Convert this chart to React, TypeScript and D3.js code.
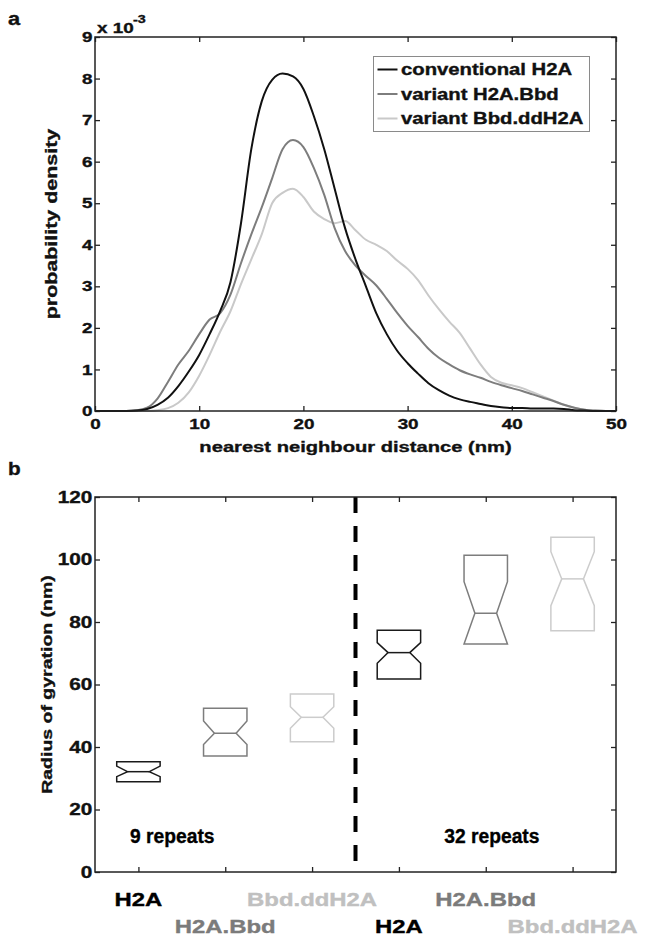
import { useRef, useEffect } from 'react';
import * as d3 from 'd3';

const WIDTH = 646;
const HEIGHT = 937;
const FONT = '"Liberation Sans", Arial, Helvetica, sans-serif';
const STRETCH = 1.3; // the original glyphs are wider than Arial

// panel a: nearest neighbour distance densities (units of 1e-3)
const DISTANCE = [
  0, 1, 2, 3, 4, 5, 6, 7, 8, 9, 10, 11, 12, 13, 14, 15, 16, 17, 18, 19, 20, 21, 22, 23, 24, 25,
  26, 27, 28, 29, 30, 31, 32, 33, 34, 35, 36, 37, 38, 39, 40, 41, 42, 43, 44, 45, 46, 47, 48, 49, 50,
];
const CONVENTIONAL_H2A = [
  0, 0, 0, 0, 0.01, 0.05, 0.15, 0.32, 0.6, 0.95, 1.35, 1.85, 2.4, 3.1, 4.5, 6.3, 7.45, 7.97, 8.12, 8.05,
  7.75, 7.1, 6.3, 5.35, 4.4, 3.65, 3.0, 2.35, 1.85, 1.45, 1.15, 0.9, 0.67, 0.5, 0.37, 0.28, 0.22, 0.17,
  0.12, 0.09, 0.07, 0.07, 0.06, 0.06, 0.06, 0.05, 0.02, 0.01, 0, 0, 0,
];
const VARIANT_H2A_BBD = [
  0, 0, 0, 0, 0.02, 0.08, 0.3, 0.7, 1.12, 1.45, 1.85, 2.2, 2.35, 2.8, 3.55, 4.25, 4.9, 5.6, 6.3, 6.52,
  6.35, 5.85, 5.2, 4.4, 3.85, 3.5, 3.25, 3.02, 2.7, 2.36, 2.05, 1.78, 1.5, 1.28, 1.12, 0.98, 0.88, 0.8,
  0.7, 0.62, 0.55, 0.48, 0.4, 0.32, 0.24, 0.15, 0.08, 0.03, 0.01, 0, 0,
];
const VARIANT_BBD_DDH2A = [
  0, 0, 0, 0, 0, 0, 0.02, 0.07, 0.2, 0.45, 0.85, 1.35, 1.9, 2.4, 3.05, 3.65, 4.25, 5.0, 5.25, 5.35,
  5.15, 4.8, 4.62, 4.52, 4.57, 4.35, 4.12, 4.0, 3.85, 3.62, 3.42, 3.15, 2.78, 2.45, 2.15, 1.88, 1.5,
  1.12, 0.82, 0.68, 0.62, 0.55, 0.45, 0.35, 0.25, 0.15, 0.08, 0.03, 0.01, 0, 0,
];
const SERIES_NAMES = ['conventional H2A', 'variant H2A.Bbd', 'variant Bbd.ddH2A'];
const SERIES_COLORS = ['#111111', '#7d7d7d', '#c9c9c9'];
const DENSITY_TICKS = [0, 1, 2, 3, 4, 5, 6, 7, 8, 9];
const DISTANCE_TICKS = [0, 10, 20, 30, 40, 50];

// panel b: radius of gyration, notched boxes
const BOX_POS = [1, 2, 3, 4, 5, 6];
const BOX_LABELS = ['H2A', 'H2A.Bbd', 'Bbd.ddH2A', 'H2A', 'H2A.Bbd', 'Bbd.ddH2A'];
const BOX_Q1 = [28.9, 37.1, 41.7, 61.8, 73.0, 77.2];
const BOX_MEDIAN = [32.1, 44.4, 49.5, 70.2, 82.8, 93.8];
const BOX_Q3 = [35.3, 52.4, 57.0, 77.4, 101.4, 107.1];
const NOTCH_LOW = [30.5, 40.8, 46.0, 66.8, 73.0, 85.2];
const NOTCH_HIGH = [33.9, 48.3, 52.9, 73.4, 92.9, 102.5];
const BOX_COLORS = ['#1a1a1a', '#7d7d7d', '#cccccc', '#1a1a1a', '#7d7d7d', '#cccccc'];
const LABEL_COLORS = ['#000000', '#7b7b7b', '#c0c0c0', '#000000', '#7b7b7b', '#c0c0c0'];
const GROUP_LABELS = ['9 repeats', '32 repeats'];
const RADIUS_TICKS = [0, 20, 40, 60, 80, 100, 120];

const App = () => {
  const svgRef = useRef<SVGSVGElement>(null);

  useEffect(() => {
    const svg = d3.select(svgRef.current);
    svg.selectAll('*').remove();
    svg.append('rect').attr('width', WIDTH).attr('height', HEIGHT).attr('fill', 'white');

    const text = (x, y, str, size, opts: any = {}) =>
      svg
        .append('text')
        .attr(
          'transform',
          `translate(${x},${y}) rotate(${opts.rotate || 0}) scale(${opts.sx || STRETCH},1)`
        )
        .attr('font-family', FONT)
        .attr('font-weight', 'bold')
        .attr('font-size', size)
        .attr('text-anchor', opts.anchor || 'middle')
        .attr('fill', opts.fill || '#111')
        .attr('stroke', opts.fill || '#111')
        .attr('stroke-width', 0.35)
        .text(str);

    const styleAxis = (g, size) => {
      g.select('.domain').remove();
      g.selectAll('line').attr('stroke', '#222').attr('stroke-width', 1.3);
      g.selectAll('text')
        .attr('font-family', FONT)
        .attr('font-weight', 'bold')
        .attr('font-size', size)
        .attr('fill', '#111')
        .attr('stroke', '#111')
        .attr('stroke-width', 0.35)
        .attr('transform', `scale(${STRETCH},1)`);
    };

    const frame = (x0, x1, y0, y1) =>
      svg
        .append('rect')
        .attr('x', x0)
        .attr('y', y0)
        .attr('width', x1 - x0)
        .attr('height', y1 - y0)
        .attr('fill', 'none')
        .attr('stroke', '#222')
        .attr('stroke-width', 1.5);

    // ---------- panel a ----------
    const xA = d3.scaleLinear().domain([0, 50]).range([95, 616]);
    const yA = d3.scaleLinear().domain([0, 9]).range([411, 37]);

    const axBottomA = svg
      .append('g')
      .attr('transform', `translate(0,${yA(0)})`)
      .call(d3.axisBottom(xA).tickValues(DISTANCE_TICKS).tickSizeInner(-5).tickSizeOuter(0).tickPadding(8));
    styleAxis(axBottomA, 14.5);
    const axTopA = svg
      .append('g')
      .attr('transform', `translate(0,${yA(9)})`)
      .call(d3.axisTop(xA).tickValues(DISTANCE_TICKS).tickSizeInner(-5).tickSizeOuter(0).tickFormat(() => ''));
    styleAxis(axTopA, 14.5);
    const axLeftA = svg
      .append('g')
      .attr('transform', `translate(${xA(0)},0)`)
      .call(d3.axisLeft(yA).tickValues(DENSITY_TICKS).tickSizeInner(-5).tickSizeOuter(0).tickPadding(2));
    styleAxis(axLeftA, 14.5);
    const axRightA = svg
      .append('g')
      .attr('transform', `translate(${xA(50)},0)`)
      .call(d3.axisRight(yA).tickValues(DENSITY_TICKS).tickSizeInner(-5).tickSizeOuter(0).tickFormat(() => ''));
    styleAxis(axRightA, 14.5);

    const line = d3
      .line<number>()
      .x((d, i) => xA(DISTANCE[i]))
      .y((d) => yA(d))
      .curve(d3.curveMonotoneX);

    // light first so the dark ones sit on top
    [VARIANT_BBD_DDH2A, VARIANT_H2A_BBD, CONVENTIONAL_H2A].forEach((series, k) => {
      svg
        .append('path')
        .datum(series)
        .attr('d', line)
        .attr('fill', 'none')
        .attr('stroke', SERIES_COLORS[2 - k])
        .attr('stroke-width', 2)
        .attr('stroke-linejoin', 'round');
    });

    frame(xA(0), xA(50), yA(9), yA(0));

    // legend
    const legend = svg.append('g').attr('transform', 'translate(373.5,56.5)');
    legend
      .append('rect')
      .attr('width', 216)
      .attr('height', 75)
      .attr('fill', 'white')
      .attr('stroke', '#8a8a8a')
      .attr('stroke-width', 1);
    SERIES_NAMES.forEach((name, i) => {
      const cy = 13 + i * 24.5;
      legend
        .append('line')
        .attr('x1', 4)
        .attr('x2', 24)
        .attr('y1', cy)
        .attr('y2', cy)
        .attr('stroke', SERIES_COLORS[i])
        .attr('stroke-width', 2);
      legend
        .append('text')
        .attr('transform', `translate(27.5,${cy + 5.5}) scale(${STRETCH},1)`)
        .attr('font-family', FONT)
        .attr('font-weight', 'bold')
        .attr('font-size', 15.6)
        .attr('fill', '#111')
        .attr('stroke', '#111')
        .attr('stroke-width', 0.35)
        .text(name);
    });

    text(97, 33, 'x 10', 14.5, { anchor: 'start' });
    text(133, 23, '-3', 11, { anchor: 'start' });
    text(355.5, 452, 'nearest neighbour distance (nm)', 15.5);
    text(57, 224, 'probability density', 16.5, { rotate: -90 });
    text(8, 25, 'a', 19, { anchor: 'start', sx: 1.15 });

    // ---------- panel b ----------
    const xB = d3.scaleLinear().domain([0.5, 6.5]).range([95, 616]);
    const yB = d3.scaleLinear().domain([0, 120]).range([872, 497]);

    const axBottomB = svg
      .append('g')
      .attr('transform', `translate(0,${yB(0)})`)
      .call(d3.axisBottom(xB).tickValues(BOX_POS).tickSizeInner(-5).tickSizeOuter(0).tickFormat(() => ''));
    styleAxis(axBottomB, 16);
    const axTopB = svg
      .append('g')
      .attr('transform', `translate(0,${yB(120)})`)
      .call(d3.axisTop(xB).tickValues(BOX_POS).tickSizeInner(-5).tickSizeOuter(0).tickFormat(() => ''));
    styleAxis(axTopB, 16);
    const axLeftB = svg
      .append('g')
      .attr('transform', `translate(${xB(0.5)},0)`)
      .call(d3.axisLeft(yB).tickValues(RADIUS_TICKS).tickSizeInner(-5).tickSizeOuter(0).tickPadding(2));
    styleAxis(axLeftB, 16);
    const axRightB = svg
      .append('g')
      .attr('transform', `translate(${xB(6.5)},0)`)
      .call(d3.axisRight(yB).tickValues(RADIUS_TICKS).tickSizeInner(-5).tickSizeOuter(0).tickFormat(() => ''));
    styleAxis(axRightB, 16);

    // notched boxes
    const boxLine = d3
      .line<[number, number]>()
      .x((d) => xB(d[0]))
      .y((d) => yB(d[1]));
    const halfW = 0.25;
    const inset = 0.125;
    BOX_POS.forEach((p, i) => {
      const l = p - halfW;
      const r = p + halfW;
      const pts: [number, number][] = [
        [l, BOX_Q3[i]],
        [r, BOX_Q3[i]],
        [r, NOTCH_HIGH[i]],
        [r - inset, BOX_MEDIAN[i]],
        [r, NOTCH_LOW[i]],
        [r, BOX_Q1[i]],
        [l, BOX_Q1[i]],
        [l, NOTCH_LOW[i]],
        [l + inset, BOX_MEDIAN[i]],
        [l, NOTCH_HIGH[i]],
        [l, BOX_Q3[i]],
      ];
      svg
        .append('path')
        .attr('d', boxLine(pts) + 'Z')
        .attr('fill', 'none')
        .attr('stroke', BOX_COLORS[i])
        .attr('stroke-width', 1.5)
        .attr('stroke-linejoin', 'miter');
      svg
        .append('path')
        .attr('d', boxLine([
          [l + inset, BOX_MEDIAN[i]],
          [r - inset, BOX_MEDIAN[i]],
        ]))
        .attr('stroke', BOX_COLORS[i])
        .attr('stroke-width', 1.5);
    });

    // separator between the 9 and 32 repeat groups
    svg
      .append('line')
      .attr('x1', xB(3.5))
      .attr('x2', xB(3.5))
      .attr('y1', yB(120))
      .attr('y2', yB(0))
      .attr('stroke', '#000')
      .attr('stroke-width', 4)
      .attr('stroke-dasharray', '16 13');

    frame(xB(0.5), xB(6.5), yB(120), yB(0));

    text(xB(1.39), yB(9.3), GROUP_LABELS[0], 20.5, { sx: 0.94, fill: '#000' });
    text(xB(5.07), yB(9.3), GROUP_LABELS[1], 20.5, { sx: 0.94, fill: '#000' });

    // category labels in two staggered rows
    BOX_POS.forEach((p, i) => {
      const y = i % 2 === 0 ? 906 : 933;
      text(xB(p), y, BOX_LABELS[i], 17.7, { sx: 1.35, fill: LABEL_COLORS[i] });
    });

    text(52, 684.5, 'Radius of gyration (nm)', 15, { rotate: -90 });
    text(8, 475, 'b', 18, { anchor: 'start', sx: 1.15 });
  }, []);

  return (
    <div style={{ position: 'absolute', left: 0, top: 0 }}>
      <svg ref={svgRef} width={WIDTH} height={HEIGHT} style={{ display: 'block' }} />
    </div>
  );
};

export default App;
